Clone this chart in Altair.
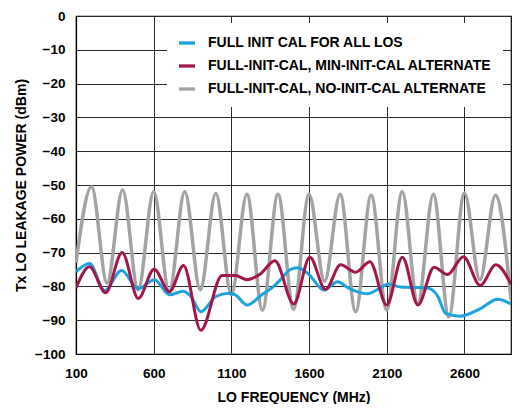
import altair as alt
import pandas as pd

series_names = [
    "FULL INIT CAL FOR ALL LOS",
    "FULL-INIT-CAL, MIN-INIT-CAL ALTERNATE",
    "FULL-INIT-CAL, NO-INIT-CAL ALTERNATE",
]
series_colors = ["#1aa3dc", "#a3164b", "#a3a3a3"]

blue_mhz = [100, 187, 284, 393, 501, 605, 702, 790, 840, 904, 1000, 1083, 1126, 1201,
            1300, 1373, 1416, 1480, 1525, 1600, 1695, 1785, 1850, 1900, 1975, 2068,
            2110, 2190, 2250, 2362, 2427, 2480, 2570, 2706, 2814, 2900]
blue_db = [-75.6, -73.2, -81.2, -75.3, -80.7, -78.0, -82.5, -81.4, -83.0, -87.5, -83.0,
           -82.0, -82.5, -85.5, -82.3, -80.0, -78.0, -75.0, -74.5, -76.5, -81.1, -78.6,
           -80.4, -81.4, -82.2, -80.2, -79.3, -80.2, -80.3, -80.5, -82.8, -88.0, -88.8,
           -86.5, -83.8, -85.2]

maroon_mhz = [100, 187, 291, 397, 501, 603, 701, 792, 904, 1040, 1126, 1201, 1287, 1380,
              1502, 1605, 1706, 1803, 1900, 1992, 2100, 2201, 2301, 2405, 2491, 2594,
              2701, 2803, 2900]
maroon_db = [-80.5, -74.2, -81.9, -70.0, -83.6, -74.9, -81.6, -73.8, -93.0, -76.8, -76.8,
             -78.0, -76.3, -72.4, -85.2, -71.4, -80.9, -73.6, -75.8, -72.7, -85.5, -71.4,
             -85.5, -74.3, -76.5, -71.2, -79.7, -73.6, -79.4]

gray_mhz = [100, 200, 300, 400, 500, 600, 700, 800, 900, 1000, 1100, 1200, 1300, 1400,
            1500, 1600, 1700, 1800, 1900, 2000, 2100, 2200, 2300, 2400, 2500, 2600, 2700,
            2800, 2900]
gray_db = [-73.0, -50.5, -79.0, -51.5, -81.0, -52.0, -81.5, -52.0, -81.0, -52.5, -82.5,
           -52.7, -87.0, -52.7, -86.7, -52.7, -78.5, -52.7, -87.5, -53.0, -87.0, -52.0,
           -85.0, -52.7, -89.0, -52.4, -78.0, -53.0, -84.0]

x_ticks = [100, 600, 1100, 1600, 2100, 2600]
y_ticks = [0, -10, -20, -30, -40, -50, -60, -70, -80, -90, -100]

frames = []
for name, xs, ys in [
    (series_names[0], blue_mhz, blue_db),
    (series_names[1], maroon_mhz, maroon_db),
    (series_names[2], gray_mhz, gray_db),
]:
    frames.append(pd.DataFrame({"mhz": xs, "db": ys, "series": name}))
df = pd.concat(frames, ignore_index=True)

FONT = "Liberation Sans"
W, H = 435, 338

x_enc = alt.X(
    "mhz:Q",
    scale=alt.Scale(domain=[100, 2900], nice=False, zero=False),
    axis=alt.Axis(
        values=x_ticks, format="d", title="LO FREQUENCY (MHz)", grid=True, tickSize=0,
        labelFlush=False, labelOverlap=False, labelPadding=12,
        titleX=W / 2, titleY=47, titleBaseline="alphabetic",
    ),
)
y_enc = alt.Y(
    "db:Q",
    scale=alt.Scale(domain=[-100, 0], nice=False, zero=False),
    axis=alt.Axis(
        values=y_ticks, format="d", title="Tx  LO LEAKAGE POWER (dBm)", grid=True, tickSize=0,
        labelPadding=11, labelOverlap=False, labelFlush=False,
        titleX=-54.5, titleY=H / 2, titleBaseline="middle", titleAlign="center",
    ),
)
color_enc = alt.Color(
    "series:N",
    scale=alt.Scale(domain=series_names, range=series_colors),
    legend=alt.Legend(title=None),
)

base = alt.Chart(df)
layers = []
for name, sw in [(series_names[2], 3.5), (series_names[0], 3), (series_names[1], 3)]:
    layers.append(
        base.transform_filter(alt.datum.series == name)
        .mark_line(interpolate="monotone", strokeWidth=sw, clip=True)
        .encode(x=x_enc, y=y_enc, color=color_enc)
    )

chart = (
    alt.layer(*layers)
    .properties(
        width=W, height=H,
        autosize=alt.AutoSizeParams(type="none"),
        padding={"left": 68, "top": 8, "right": 9, "bottom": 50},
    )
    .configure_view(stroke="#000000", strokeWidth=1.2)
    .configure_axis(
        labelFont=FONT, labelFontSize=13.5, labelFontWeight="bold", labelColor="#000",
        titleFont=FONT, titleFontSize=14, titleFontWeight="bold", titleColor="#000",
        gridColor="#2a2a2a", gridWidth=1, gridOpacity=1,
        domainColor="#000", domainWidth=1.2,
    )
    .configure_legend(
        orient="none", legendX=91, legendY=7, padding=10,
        fillColor="#ffffff", strokeColor="#ffffff",
        symbolType="stroke", symbolSize=256, symbolStrokeWidth=3.3,
        labelFont=FONT, labelFontSize=14, labelFontWeight="bold", labelColor="#000",
        labelLimit=400, rowPadding=6, labelOffset=11,
    )
)

chart.save("out.html", embed_options={"renderer": "svg", "actions": False})
